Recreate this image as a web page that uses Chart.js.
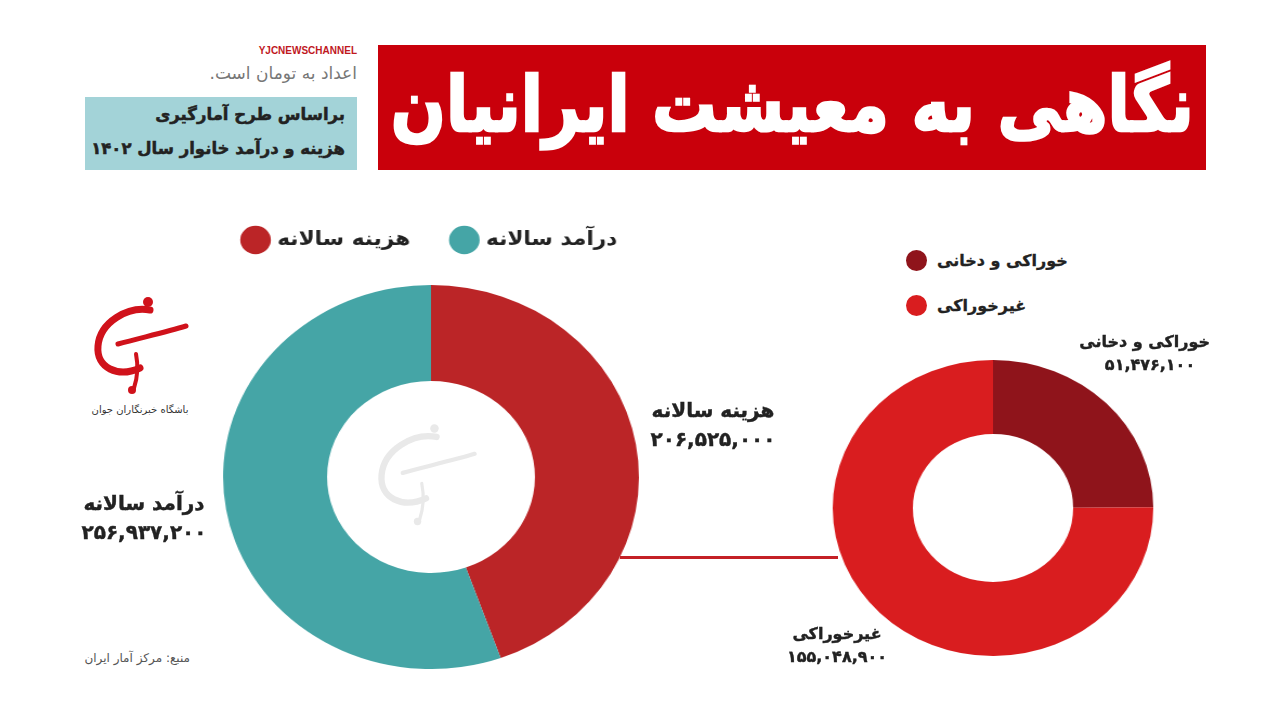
<!DOCTYPE html>
<html lang="fa">
<head>
<meta charset="utf-8">
<script src="https://cdn.jsdelivr.net/npm/chart.js@4.4.1/dist/chart.umd.min.js"></script>
<style>
  body { margin: 0; width: 1280px; height: 720px; background: #fff; position: relative; overflow: hidden; font-family: "DejaVu Sans", sans-serif; }
  .abs { position: absolute; }
  .rtl { direction: rtl; }
  #titleBar { left: 378px; top: 45px; width: 828px; height: 125px; background: #c9000b; color: #fff;
    display: flex; justify-content: center; align-items: center;
    font-weight: bold; font-size: 76px; -webkit-text-stroke: 2.5px #fff; }
  #titleBar span { flex-shrink: 0; display: inline-block; transform: scaleX(0.85); white-space: nowrap; margin-top: -6px; }
  #brand { right: 923px; top: 45px; font-family: "Liberation Sans", sans-serif; font-weight: bold; font-size: 10px; color: #c0181e; }
  #unit { right: 923px; top: 63px; font-size: 17px; color: #777; }
  #infoBox { left: 85px; top: 97px; width: 272px; height: 73px; background: #a3d3d8; }
  #infoBox div { position: absolute; right: 12px; font-weight: bold; font-size: 16.5px; color: #222; white-space: nowrap; -webkit-text-stroke: 0.5px #222; }
  .lbl { font-weight: bold; color: #222; text-align: center; white-space: nowrap; line-height: 1.45; -webkit-text-stroke: 0.4px #222; }
  .big { font-size: 20px; }
  .small { font-size: 16px; }
  #bigWrap { left: 181px; top: 190px; width: 500px; height: 479px; transform: scaleX(1.083); }
  #smallWrap { left: 845px; top: 360px; width: 296px; height: 296px; transform: scaleX(1.083); }
  #link { left: 620px; top: 556px; width: 218px; height: 3px; background: #c42026; }
  #smallLegend { left: 906px; top: 246px; }
  #smallLegend .item { display: flex; align-items: center; height: 28px; margin-bottom: 17px; font-weight: bold; font-size: 16px; color: #222; -webkit-text-stroke: 0.3px #222; }
  #smallLegend .dot { width: 21px; height: 21px; border-radius: 50%; margin-right: 10px; }
  #logo { left: 88px; top: 296px; }
  #logoText { left: 78px; top: 404px; width: 124px; text-align: center; font-size: 10px; color: #333; }
  #water { left: 371px; top: 420px; opacity: 0.13; }
  #source { right: 1090px; top: 651px; font-size: 12px; color: #555; }
</style>
</head>
<body>
<div id="titleBar" class="abs rtl"><span>نگاهی به معیشت ایرانیان</span></div>
<div id="brand" class="abs">YJCNEWSCHANNEL</div>
<div id="unit" class="abs rtl">اعداد به تومان است.</div>
<div id="infoBox" class="abs rtl">
  <div style="top:8px">براساس طرح آمارگیری</div>
  <div style="top:42px">هزینه و درآمد خانوار سال ۱۴۰۲</div>
</div>
<svg id="logo" class="abs" width="104" height="100" viewBox="0 0 104 100">
  <g fill="none" stroke="#d0121b" stroke-linecap="round">
    <path d="M62 14 C40 10 12 26 10 50 C8 72 30 82 52 72" stroke-width="7"/>
    <path d="M30 48 C52 42 78 36 98 30" stroke-width="5"/>
    <path d="M48 58 C50 68 50 80 46 92" stroke-width="4"/>
  </g>
  <circle cx="60" cy="6" r="5" fill="#d0121b"/>
  <circle cx="44" cy="94" r="4" fill="#d0121b"/>
</svg>
<div id="logoText" class="abs rtl">باشگاه خبرنگاران جوان</div>
<div id="source" class="abs rtl">منبع: مرکز آمار ایران</div>

<div id="bigWrap" class="abs"><canvas id="bigChart"></canvas></div>
<svg id="water" class="abs" width="110" height="110" viewBox="0 0 104 100">
  <g fill="none" stroke="#555" stroke-linecap="round">
    <path d="M62 14 C40 10 12 26 10 50 C8 72 30 82 52 72" stroke-width="6"/>
    <path d="M30 48 C52 42 78 36 98 30" stroke-width="4"/>
    <path d="M48 58 C50 68 50 80 46 92" stroke-width="3"/>
  </g>
  <circle cx="60" cy="6" r="4" fill="#555"/>
  <circle cx="44" cy="94" r="3.5" fill="#555"/>
</svg>
<div id="link" class="abs"></div>
<div id="smallWrap" class="abs"><canvas id="smallChart"></canvas></div>
<div id="smallLegend" class="abs"></div>

<div id="lblCost" class="abs rtl lbl big" style="left:648px; top:396px; width:130px"></div>
<div id="lblIncome" class="abs rtl lbl big" style="left:74px; top:489px; width:140px"></div>
<div id="lblFood" class="abs rtl lbl small" style="left:1090px; top:330px; width:120px"></div>
<div id="lblNonFood" class="abs rtl lbl small" style="left:780px; top:622px; width:114px"></div>

<script>
// Annual budget of a household (toman)
const budgetLabels = ['هزینه سالانه', 'درآمد سالانه'];
const budgetValues = [206525000, 256937200];
const budgetColors = ['#bb2527', '#45a5a6'];

// Breakdown of annual cost
const costLabels = ['خوراکی و دخانی', 'غیرخوراکی'];
const costValues = [51476100, 155048900];
const costColors = ['#8f141b', '#d91d1f'];

const faDigits = '۰۱۲۳۴۵۶۷۸۹';
function fa(n) {
  return n.toString().replace(/\B(?=(\d{3})+(?!\d))/g, ',').replace(/\d/g, d => faDigits[d]);
}

// push the doughnut down a bit below its legend
const legendGap = {
  id: 'legendGap',
  beforeInit(chart) {
    const fit = chart.legend.fit;
    chart.legend.fit = function () {
      fit.bind(chart.legend)();
      this.height += 25;
    };
  }
};

new Chart(document.getElementById('bigChart'), {
  type: 'doughnut',
  data: {
    labels: budgetLabels,
    datasets: [{ data: budgetValues, backgroundColor: budgetColors, borderWidth: 0 }]
  },
  options: {
    responsive: true,
    maintainAspectRatio: false,
    animation: false,
    cutout: '50%',
    plugins: {
      legend: {
        position: 'top',
        labels: {
          usePointStyle: true,
          pointStyle: 'circle',
          boxWidth: 20,
          boxHeight: 20,
          padding: 40,
          color: '#222',
          font: { family: 'DejaVu Sans', size: 20, weight: 'bold' }
        }
      },
      tooltip: { enabled: false }
    }
  },
  plugins: [legendGap]
});

new Chart(document.getElementById('smallChart'), {
  type: 'doughnut',
  data: {
    labels: costLabels,
    datasets: [{ data: costValues, backgroundColor: costColors, borderWidth: 0 }]
  },
  options: {
    responsive: true,
    maintainAspectRatio: false,
    animation: false,
    cutout: '50%',
    plugins: { legend: { display: false }, tooltip: { enabled: false } }
  }
});

// legend for the small chart, stacked
const sl = document.getElementById('smallLegend');
costLabels.forEach((t, i) => {
  const item = document.createElement('div');
  item.className = 'item';
  item.innerHTML = '<span class="dot" style="background:' + costColors[i] + '"></span><span>' + t + '</span>';
  sl.appendChild(item);
});

function setLabel(id, name, val) {
  document.getElementById(id).innerHTML = '<div>' + name + '</div><div>' + fa(val) + '</div>';
}
setLabel('lblCost', budgetLabels[0], budgetValues[0]);
setLabel('lblIncome', budgetLabels[1], budgetValues[1]);
setLabel('lblFood', costLabels[0], costValues[0]);
setLabel('lblNonFood', costLabels[1], costValues[1]);
</script>
</body>
</html>
